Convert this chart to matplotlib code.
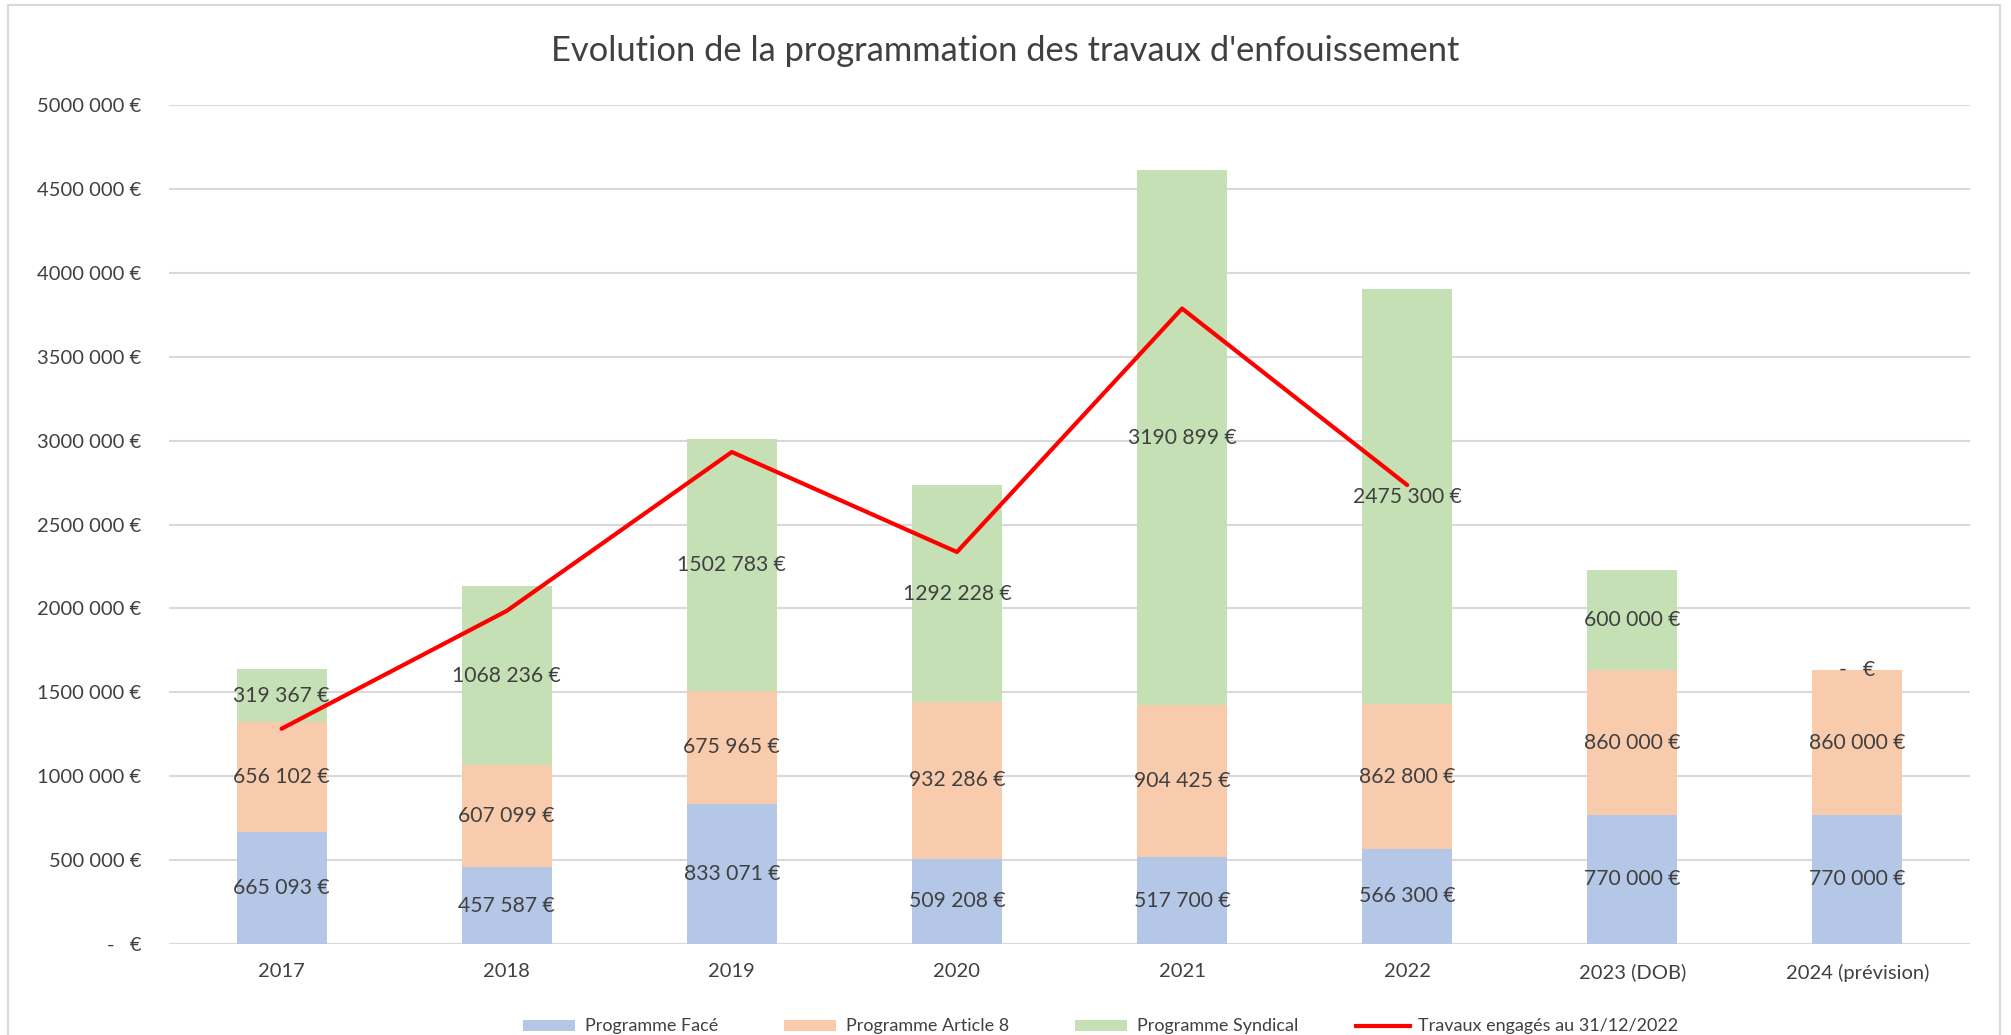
import matplotlib.pyplot as plt
from matplotlib.patches import Rectangle
from matplotlib.lines import Line2D
import numpy as np

plt.rcParams['font.family'] = ['Lato', 'DejaVu Sans']

categories = ['2017', '2018', '2019', '2020', '2021', '2022', '2023 (DOB)', '2024 (prévision)']
face = [665093, 457587, 833071, 509208, 517700, 566300, 770000, 770000]
article8 = [656102, 607099, 675965, 932286, 904425, 862800, 860000, 860000]
syndical = [319367, 1068236, 1502783, 1292228, 3190899, 2475300, 600000, 0]
# red line, only 2017-2022
engages = [1283000, 1985000, 2932000, 2336000, 3787000, 2735000]

TEXT = '#404040'
GRID = '#d9d9d9'
RED = '#FF0000'
colors = ['#B4C7E7', '#F8CBAD', '#C5E0B4']
names = ['Programme Facé', 'Programme Article 8', 'Programme Syndical']
line_name = 'Travaux engagés au 31/12/2022'

W, H = 2011, 1035


def euro(v):
    v = int(round(v))
    if v == 0:
        return '-   €'
    if v >= 1000:
        return f"{v // 1000} {v % 1000:03d} €"
    return f"{v} €"


fig = plt.figure(figsize=(W / 100, H / 100), dpi=100)
ax = fig.add_axes([169 / W, 1 - 944 / H, (1970 - 169) / W, (944 - 105) / H])

x = np.arange(len(categories))
bottom = np.zeros(len(categories))
for vals, col in zip([face, article8, syndical], colors):
    vals = np.array(vals, dtype=float)
    ax.bar(x, vals, bottom=bottom, width=0.4, color=col, zorder=2)
    for xi, b, v in zip(x, bottom, vals):
        ax.text(xi, b + v / 2, euro(v), ha='center', va='center',
                fontsize=15.2, color=TEXT, zorder=4)
    bottom += vals

ax.plot(x[:len(engages)], engages, color=RED, lw=3, zorder=3,
        solid_capstyle='round')

ax.set_xlim(-0.5, len(categories) - 0.5)
ax.set_ylim(0, 5000000)
yt = np.arange(0, 5000001, 500000)
ax.set_yticks(yt)
ax.set_yticklabels([euro(v) for v in yt])
ax.set_xticks(x)
ax.set_xticklabels(categories)
ax.tick_params(axis='y', length=0, pad=20, labelsize=14.5, labelcolor=TEXT)
ax.tick_params(axis='x', length=0, pad=14, labelsize=14.5, labelcolor=TEXT)
ax.grid(axis='y', color=GRID, lw=1.5, zorder=0)
ax.set_axisbelow(True)
for s in ax.spines.values():
    s.set_visible(False)

fig.text(1005 / W, 1 - 51 / H, "Evolution de la programmation des travaux d'enfouissement",
         ha='center', va='center', fontsize=24.8, color=TEXT)

# legend, laid out like Excel's (fixed slots)
leg_x = [523, 784, 1075, 1356]
leg_y = 1025.5
for lx, col, name in zip(leg_x, colors + [RED], names + [line_name]):
    if col == RED:
        fig.add_artist(Line2D([lx / W, (lx + 54) / W], [1 - leg_y / H] * 2,
                              color=RED, lw=3, transform=fig.transFigure))
        tx = lx + 62
    else:
        fig.add_artist(Rectangle((lx / W, 1 - (leg_y + 5.5) / H), 52 / W, 11 / H,
                                 facecolor=col, edgecolor='none', transform=fig.transFigure))
        tx = lx + 62
    fig.text(tx / W, 1 - leg_y / H, name, ha='left', va='center', fontsize=13, color=TEXT)

fig.add_artist(Rectangle((8 / W, -0.01), (2000 - 8) / W, 1 - 5 / H + 0.01,
                         transform=fig.transFigure, fill=False, edgecolor=GRID, lw=1.5))

fig.savefig('out.png', dpi=100, facecolor='white')
